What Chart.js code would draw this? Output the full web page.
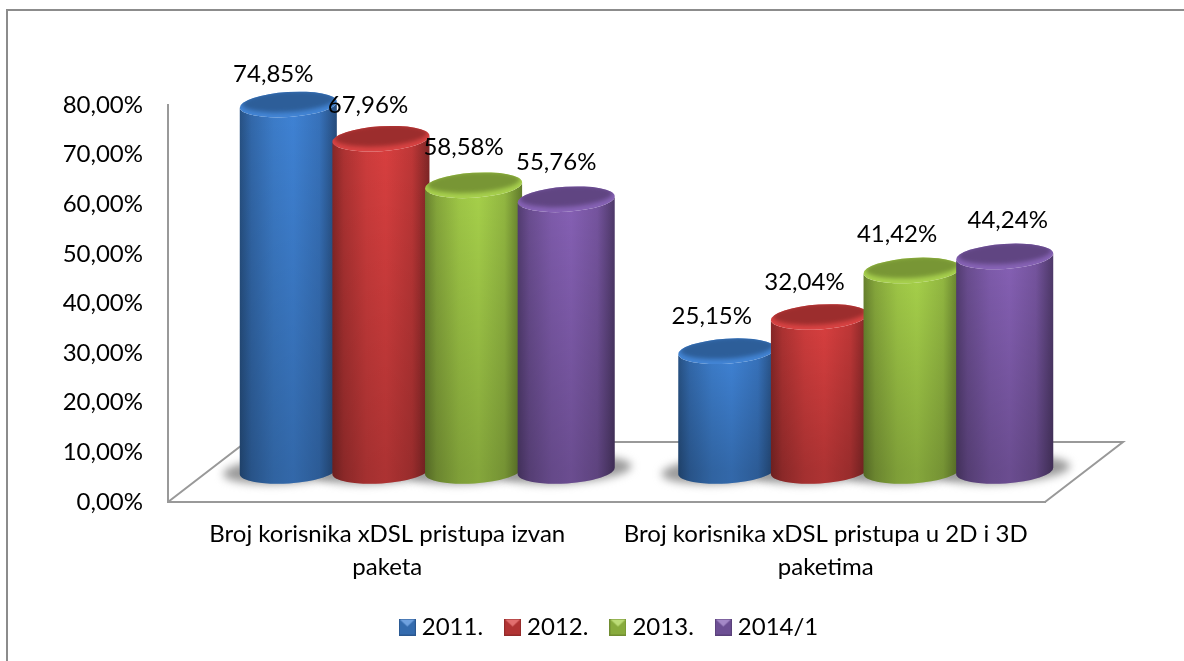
<!DOCTYPE html>
<html>
<head>
<meta charset="utf-8">
<title>xDSL</title>
<script src="https://cdn.jsdelivr.net/npm/chart.js@4"></script>
<style>
html, body { margin: 0; padding: 0; background: #fff; }
canvas { display: block; }
</style>
</head>
<body>
<canvas id="chart" width="1184" height="661"></canvas>
<script>
const categories = [
    ["Broj korisnika xDSL pristupa izvan", "paketa"],
    ["Broj korisnika xDSL pristupa u 2D i 3D", "paketima"]
];
const seriesNames = ["2011.", "2012.", "2013.", "2014/1"];
const values2011 = [74.85, 25.15];
const values2012 = [67.96, 32.04];
const values2013 = [58.58, 41.42];
const values2014 = [55.76, 44.24];
const seriesColors = ["#3f82d4", "#d83f3f", "#a6d04a", "#8560b4"];

// 3D look of the original: depth offset of the floor, in pixels
const depthX = 40;
const depthY = 26;
const tilt = -0.065;
const topRy = 12.5;
const lineColor = "#999999";
const fontName = "Lato";
const fontSize = 24;
// small label shifts seen in the reference, [dx, dy] per series and category
const labelShift = [
    [[0, 3], [0, -2]],
    [[2, 0], [0, -2]],
    [[5, -5], [0, -3]],
    [[5, -4], [18, -3]]
];

function shade(hex, f) {
    let n = parseInt(hex.slice(1), 16);
    let c = [n >> 16, (n >> 8) & 255, n & 255].map(v => Math.round(f < 1 ? v * f : v + (255 - v) * (f - 1)));
    return `rgb(${c[0]},${c[1]},${c[2]})`;
}

function legendSwatch(color) {
    let c = document.createElement("canvas");
    c.width = 17;
    c.height = 17;
    let g = c.getContext("2d");
    g.fillStyle = shade(color, 0.68);
    g.fillRect(0, 0, 17, 17);
    g.fillStyle = shade(color, 0.82);
    g.fillRect(1, 1, 15, 15);
    g.fillStyle = shade(color, 1.25);
    g.beginPath();
    g.moveTo(1, 1);
    g.lineTo(16, 1);
    g.lineTo(8.5, 8);
    g.closePath();
    g.fill();
    return c;
}

function drawCylinder(ctx, x, top, base, w, color) {
    let rx = w / 2;
    // body
    ctx.save();
    ctx.beginPath();
    ctx.ellipse(x, base, rx, topRy, tilt, 0, Math.PI);
    ctx.ellipse(x, top, rx, topRy, tilt, Math.PI, 0, true);
    ctx.closePath();
    ctx.clip();
    let h = ctx.createLinearGradient(x - rx, 0, x + rx, 0);
    h.addColorStop(0, shade(color, 0.62));
    h.addColorStop(0.12, shade(color, 0.8));
    h.addColorStop(0.35, shade(color, 0.95));
    h.addColorStop(0.55, color);
    h.addColorStop(0.82, shade(color, 0.88));
    h.addColorStop(1, shade(color, 0.58));
    ctx.fillStyle = h;
    ctx.fillRect(x - rx - 2, top - topRy - 8, w + 4, base - top + 2 * topRy + 16);
    let v = ctx.createLinearGradient(0, top, 0, base);
    v.addColorStop(0, "rgba(0,0,0,0)");
    v.addColorStop(1, "rgba(0,0,0,0.2)");
    ctx.fillStyle = v;
    ctx.fillRect(x - rx - 2, top - topRy - 8, w + 4, base - top + 2 * topRy + 16);
    ctx.restore();
    // lid, dark in the middle with a soft rim
    ctx.beginPath();
    ctx.ellipse(x, top, rx, topRy, tilt, 0, Math.PI * 2);
    ctx.fillStyle = shade(color, 1.02);
    ctx.fill();
    ctx.save();
    ctx.beginPath();
    ctx.ellipse(x, top, rx, topRy, tilt, 0, Math.PI * 2);
    ctx.clip();
    ctx.beginPath();
    ctx.ellipse(x, top - 3, rx - 2, topRy - 2, tilt, 0, Math.PI * 2);
    ctx.fillStyle = shade(color, 0.72);
    ctx.filter = "blur(2px)";
    ctx.fill();
    ctx.restore();
}

const cylinders3d = {
    id: "cylinders3d",
    afterLayout(chart) {
        // the legend is centred on the whole picture plus the 3D depth, not on the axis area
        chart.legend.left += 89;
        chart.legend.right += 89;
    },
    beforeDatasetsDraw(chart) {
        let ctx = chart.ctx;
        let a = chart.chartArea;
        let metas = chart.data.datasets.map((d, i) => chart.getDatasetMeta(i));
        // floor
        ctx.save();
        ctx.strokeStyle = lineColor;
        ctx.lineWidth = 2;
        ctx.beginPath();
        ctx.moveTo(a.left, a.bottom);
        ctx.lineTo(a.left + 78, a.bottom - 60);
        ctx.lineTo(a.right + 78, a.bottom - 60);
        ctx.lineTo(a.right, a.bottom);
        ctx.stroke();
        // floor shadows
        ctx.filter = "blur(4px)";
        ctx.fillStyle = "#9a9a9a";
        metas.forEach(m => m.data.forEach(b => {
            let x = b.x + depthX;
            ctx.beginPath();
            ctx.ellipse(x, b.base - depthY - 6, b.width / 2 + 19, topRy + 1, tilt, 0, Math.PI * 2);
            ctx.fill();
        }));
        ctx.restore();
        // bars, later series on top of the earlier ones
        metas.forEach((m, i) => m.data.forEach(b => {
            drawCylinder(ctx, b.x + depthX, b.y - depthY, b.base - depthY - 5, b.width * 1.05, seriesColors[i]);
        }));
        // value labels
        ctx.save();
        ctx.font = `${fontSize}px ${fontName}`;
        ctx.fillStyle = "#000";
        ctx.textAlign = "center";
        ctx.textBaseline = "middle";
        metas.forEach((m, i) => m.data.forEach((b, j) => {
            let txt = chart.data.datasets[i].data[j].toFixed(2).replace(".", ",") + "%";
            let s = labelShift[i][j];
            ctx.fillText(txt, b.x + depthX - 15 + s[0], b.y - depthY - 33 + s[1]);
        }));
        ctx.restore();
        return false;
    },
    afterDraw(chart) {
        // outer frame of the picture, open on the right and at the bottom
        let ctx = chart.ctx;
        ctx.save();
        ctx.strokeStyle = "#8c8c8c";
        ctx.lineWidth = 2;
        ctx.beginPath();
        ctx.moveTo(7, 661);
        ctx.lineTo(7, 10);
        ctx.lineTo(1184, 10);
        ctx.stroke();
        ctx.restore();
    }
};

onload = () => {
    let allValues = [values2011, values2012, values2013, values2014];
    new Chart(document.getElementById("chart"), {
        type: "bar",
        data: {
            labels: categories,
            datasets: seriesNames.map((n, i) => ({
                label: n,
                data: allValues[i],
                backgroundColor: seriesColors[i],
                categoryPercentage: 0.845,
                barPercentage: 1
            }))
        },
        plugins: [cylinders3d],
        options: {
            responsive: false,
            animation: false,
            layout: { padding: { top: 105, left: 0, right: 139, bottom: 12 } },
            plugins: {
                tooltip: { enabled: false },
                legend: {
                    position: "bottom",
                    labels: {
                        usePointStyle: true,
                        // narrow box so the text sits close to the swatch
                        pointStyleWidth: 5,
                        padding: 27,
                        color: "#000",
                        font: { family: fontName, size: fontSize },
                        generateLabels: () => seriesNames.map((n, i) => ({
                            text: n,
                            pointStyle: legendSwatch(seriesColors[i]),
                            fontColor: "#000",
                            lineWidth: 0,
                            datasetIndex: i
                        }))
                    }
                }
            },
            scales: {
                x: {
                    grid: { display: false, drawTicks: false },
                    border: { color: lineColor, width: 2 },
                    afterFit: s => { s.height = 86; },
                    ticks: {
                        color: "#000",
                        padding: 16,
                        maxRotation: 0,
                        minRotation: 0,
                        autoSkip: false,
                        font: { family: fontName, size: fontSize, lineHeight: 1.375 }
                    }
                },
                y: {
                    min: 0,
                    max: 80,
                    grid: { display: false, drawTicks: false },
                    border: { color: lineColor, width: 2 },
                    afterFit: s => { s.width = 168; },
                    ticks: {
                        stepSize: 10,
                        color: "#000",
                        padding: 25,
                        font: { family: fontName, size: fontSize },
                        callback: v => v.toFixed(2).replace(".", ",") + "%"
                    }
                }
            }
        }
    });
};
</script>
</body>
</html>
